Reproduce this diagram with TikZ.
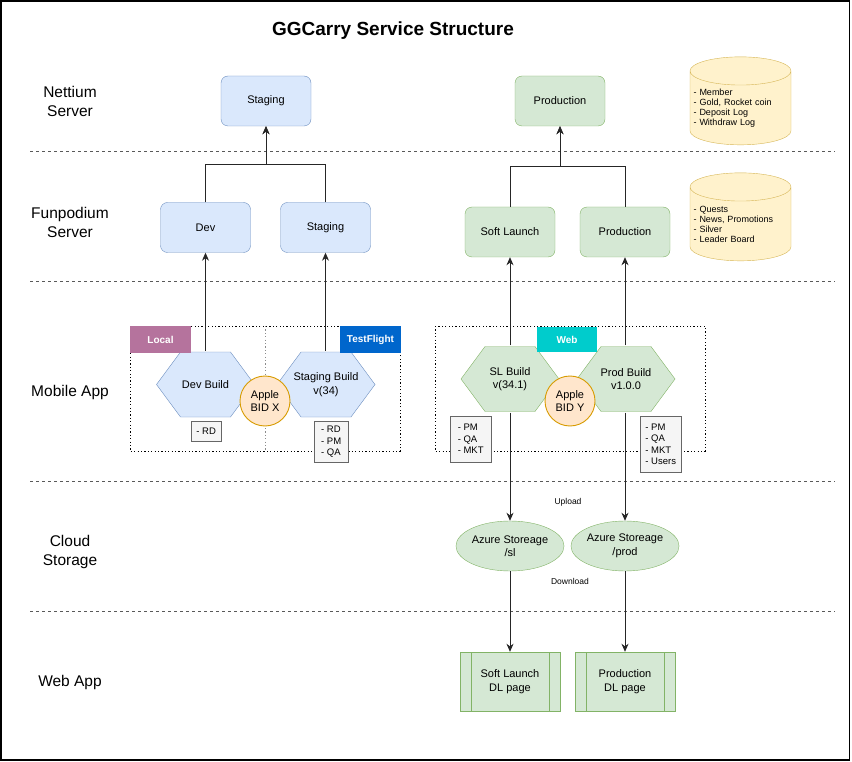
\documentclass[tikz,border=0pt]{standalone}
\usepackage{fontspec}
\setmainfont{Liberation Sans}
\usetikzlibrary{positioning, arrows.meta, shapes.geometric}
\definecolor{srvblue}{HTML}{DAE8FC}
\definecolor{srvblueline}{HTML}{6C8EBF}
\definecolor{srvgreen}{HTML}{D5E8D4}
\definecolor{srvgreenline}{HTML}{82B366}
\definecolor{dbfill}{HTML}{FFF2CC}
\definecolor{dbline}{HTML}{D6B656}
\definecolor{applefill}{HTML}{FFE6CC}
\definecolor{appleline}{HTML}{D79B00}
\definecolor{listfill}{HTML}{F5F5F5}
\definecolor{listline}{HTML}{666666}
\definecolor{localtag}{HTML}{B5739D}
\definecolor{tftag}{HTML}{0066CC}
\definecolor{webtag}{HTML}{00CCCC}
\tikzset{
    title/.style={font=\fontsize{19}{22}\selectfont\bfseries},
    layer/.style={font=\fontsize{15.5}{19}\selectfont, align=center},
    sep/.style={draw=black!65, dash pattern=on 3pt off 3pt, line width=0.9pt},
    dotbox/.style={draw=black, dash pattern=on 1.2pt off 2.2pt, line width=0.9pt},
    divider/.style={draw=black!45, dash pattern=on 1.2pt off 2.2pt, line width=0.9pt},
    srvnode/.style={rectangle, rounded corners=7pt, minimum width=90pt, minimum height=50pt, font=\fontsize{11}{13.5}\selectfont, align=center},
    bluenode/.style={srvnode, fill=srvblue, draw=srvblueline},
    greennode/.style={srvnode, fill=srvgreen, draw=srvgreenline},
    % hexagon 98x65, drawn inside a slightly larger box
    buildnode/.style 2 args={rectangle, minimum width=100pt, minimum height=67pt, inner sep=0pt, font=\fontsize{11}{13.5}\selectfont, align=center,
        path picture={\draw[fill=#1, draw=#2] ([xshift=-49pt]path picture bounding box.center) -- ++(24pt,32.5pt) -- ++(50pt,0pt)
            -- ++(24pt,-32.5pt) -- ++(-24pt,-32.5pt) -- ++(-50pt,0pt) -- cycle;}},
    bluebuild/.style={buildnode={srvblue}{srvblueline}},
    greenbuild/.style={buildnode={srvgreen}{srvgreenline}},
    apple/.style={circle, minimum size=50pt, inner sep=0pt, fill=applefill, draw=appleline, line width=0.9pt, font=\fontsize{11}{13.5}\selectfont, align=center},
    tag/.style={rectangle, minimum width=61pt, minimum height=27pt, inner sep=0pt, text=white, font=\fontsize{10}{12}\selectfont\bfseries},
    listbox/.style={rectangle, anchor=north west, fill=listfill, draw=listline, font=\fontsize{9.5}{11.5}\selectfont, align=left, inner xsep=2pt, inner ysep=1pt},
    dbnode/.style={cylinder, shape border rotate=90, aspect=0.3, draw=dbline, fill=dbfill, minimum width=101pt, minimum height=88pt, inner sep=0pt, font=\fontsize{9}{10}\selectfont, align=left, text width=94pt},
    storage/.style={ellipse, minimum width=90pt, minimum height=50pt, inner sep=0pt, fill=srvgreen, draw=srvgreenline, font=\fontsize{11}{13.5}\selectfont, align=center},
    dlpage/.style={rectangle, minimum width=100pt, minimum height=59pt, fill=srvgreen, draw=srvgreenline, font=\fontsize{11}{13.5}\selectfont, align=center,
        path picture={\draw[srvgreenline] ([xshift=11pt]path picture bounding box.north west) -- ([xshift=11pt]path picture bounding box.south west)
            ([xshift=-11pt]path picture bounding box.north east) -- ([xshift=-11pt]path picture bounding box.south east);}},
    small/.style={font=\fontsize{8.5}{10}\selectfont},
    arr/.style={draw=black!85, line width=0.9pt, -{Stealth[length=8pt, width=7pt, inset=2.5pt]}}
}

\begin{document}
\begin{tikzpicture}[x=1pt, y=-1pt]
    \useasboundingbox (0,0) rectangle (852,762);
    \draw[line width=1.3pt] (1,1) rectangle (849.5,760);
    \node[title] (head) at (393,31) {GGCarry Service Structure};

    % layers
    \node[layer] (lnet) at (70,101) {Nettium\\Server};
    \node[layer] (lfun) at (70,222) {Funpodium\\Server};
    \node[layer] (lmob) at (70,392) {Mobile App};
    \node[layer] (lcld) at (70,552) {Cloud\\Storage};
    \node[layer] (lweb) at (70,682) {Web App};
    \foreach \y in {151,281,481,611}
        \draw[sep] (30,\y) -- (835,\y);

    % servers
    \node[bluenode] (stgN) at (266,101) {Staging};
    \node[bluenode] (dev) at (205.5,227.5) {Dev};
    \node[bluenode] (stgF) at (325.5,227.5) {Staging};
    \node[greennode] (prodN) at (560,101) {Production};
    \node[greennode] (soft) at (510,232) {Soft Launch};
    \node[greennode] (prodF) at (625,232) {Production};

    \node[dbnode] (dbN) at (740.5,108) {- Member\\- Gold, Rocket coin\\- Deposit Log\\- Withdraw Log};
    \node[dbnode] (dbF) at (740.5,224) {- Quests\\- News, Promotions\\- Silver\\- Leader Board};

    % mobile app
    \draw[dotbox] (130,326) rectangle (400,451);
    \draw[divider] (265,326) -- (265,451);
    \draw[dotbox] (435,326) rectangle (705,451);

    \node[bluebuild] (devB) at (205.5,384.5) {Dev Build};
    \node[bluebuild] (stgB) at (326,384.5) {Staging Build\\v(34)};
    \node[greenbuild] (slB) at (510,379) {SL Build\\v(34.1)};
    \node[greenbuild] (prodB) at (626,379) {Prod Build\\v1.0.0};
    \node[apple] (bidX) at (265,401) {Apple\\BID X};
    \node[apple] (bidY) at (570,401) {Apple\\BID Y};

    \node[tag, fill=localtag] (local) at (160.5,339.5) {Local};
    \node[tag, fill=tftag] (tflight) at (370.5,339.5) {TestFlight};
    \node[tag, fill=webtag, minimum width=60pt, minimum height=25pt] (web) at (567,339.5) {Web};

    \node[listbox, minimum width=30pt, minimum height=20pt] (rdDev) at (191,421) {- RD};
    \node[listbox, minimum width=34pt, minimum height=41pt] (rdStg) at (314,421) {- RD\\- PM\\- QA};
    \node[listbox, minimum width=41pt, minimum height=46pt] (listSL) at (450,416) {- PM\\- QA\\- MKT};
    \node[listbox, minimum width=41pt, minimum height=56pt] (listProd) at (640,416) {- PM\\- QA\\- MKT\\- Users};

    % cloud + web
    \node[storage] (azSL) at (510,546) {Azure Storeage\\/sl};
    \node[storage] (azProd) at (625,546) {Azure Storeage\\/prod};
    \node[small] (up) at (568,502) {Upload};
    \node[small] (down) at (570,581) {Download};
    \node[dlpage] (dlSL) at (510,681.5) {Soft Launch\\DL page};
    \node[dlpage] (dlProd) at (625,681.5) {Production\\DL page};

    % connectors
    \draw[arr] (dev.north) -- ++(0,-38) -| (stgN.south);
    \draw[arr] (stgF.north) -- ++(0,-38) -| (stgN.south);
    \draw[arr] (soft.north) -- ++(0,-40) -| (prodN.south);
    \draw[arr] (prodF.north) -- ++(0,-40) -| (prodN.south);
    \draw[arr] (devB.north) -- (dev.south);
    \draw[arr] (stgB.north -| stgF.south) -- (stgF.south);
    \draw[arr] (slB.north) -- (soft.south);
    \draw[arr] (prodB.north -| prodF.south) -- (prodF.south);
    \draw[arr] (slB.south) -- (azSL.north);
    \draw[arr] (prodB.south -| azProd.north) -- (azProd.north);
    \draw[arr] (azSL.south) -- (dlSL.north);
    \draw[arr] (azProd.south) -- (dlProd.north);
\end{tikzpicture}
\end{document}
